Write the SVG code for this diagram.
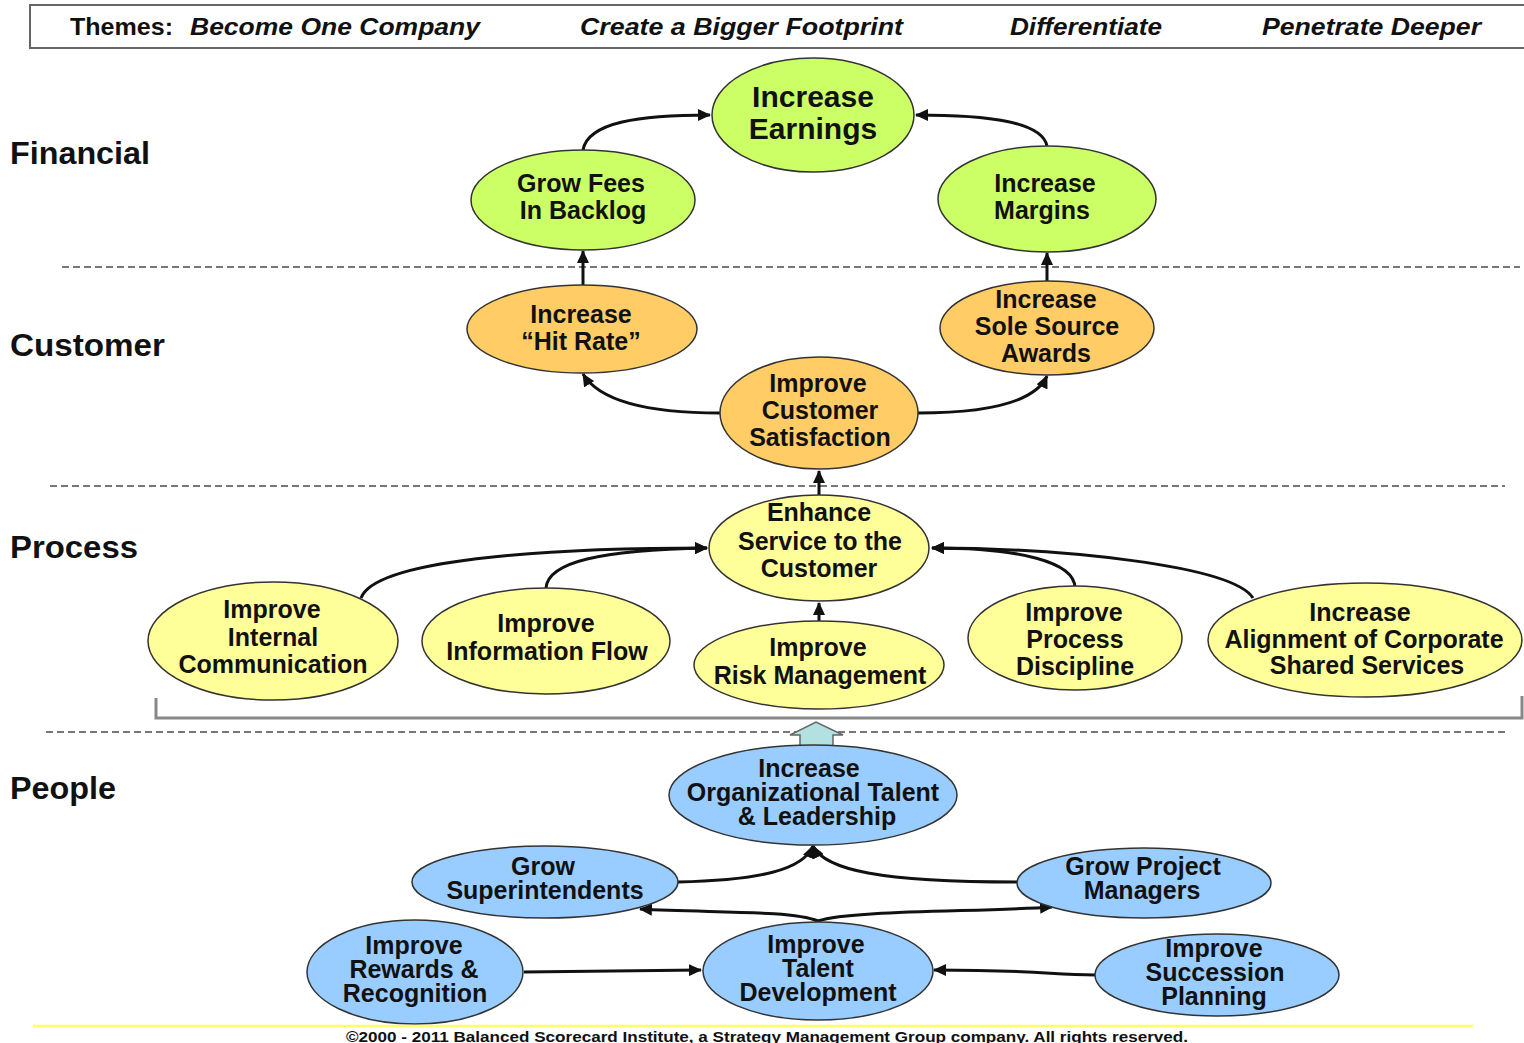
<svg xmlns="http://www.w3.org/2000/svg" width="1524" height="1043" viewBox="0 0 1524 1043">
<style>
.hdr{font-family:"Liberation Sans",Arial,sans-serif;font-size:24px;font-weight:bold;font-style:italic;fill:#111}
.sec{font-family:"Liberation Sans",Arial,sans-serif;font-size:31px;font-weight:bold;fill:#111}
.t{font-family:"Liberation Sans",Arial,sans-serif;font-size:25px;font-weight:bold;fill:#111;text-anchor:middle}
.big{font-size:30px}
.fin{fill:#ccff66;stroke:#333;stroke-width:1.5}
.cus{fill:#ffcc66;stroke:#333;stroke-width:1.5}
.pro{fill:#ffff99;stroke:#333;stroke-width:1.5}
.peo{fill:#99ccff;stroke:#333;stroke-width:1.5}
.dash{stroke:#777;stroke-width:2;stroke-dasharray:7 4;fill:none}
.c{fill:none;stroke:#111;stroke-width:3;marker-end:url(#ah)}
.foot{font-family:"Liberation Sans",Arial,sans-serif;font-size:15px;font-weight:bold;fill:#111}
</style>
<defs>
<marker id="ah" markerUnits="userSpaceOnUse" markerWidth="14" markerHeight="12" refX="12" refY="6" orient="auto">
<path d="M0,0 L13,6 L0,12 z" fill="#111"/>
</marker>
</defs>
<rect width="1524" height="1043" fill="#fff"/>

<g id="header">
<rect x="30" y="5" width="1510" height="43" fill="none" stroke="#666" stroke-width="2"/>
<text x="70" y="35" class="hdr" style="font-style:normal" textLength="103" lengthAdjust="spacingAndGlyphs">Themes:</text>
<text x="190" y="35" class="hdr" textLength="290" lengthAdjust="spacingAndGlyphs">Become  One  Company</text>
<text x="580" y="35" class="hdr" textLength="323" lengthAdjust="spacingAndGlyphs">Create  a  Bigger  Footprint</text>
<text x="1010" y="35" class="hdr" textLength="152" lengthAdjust="spacingAndGlyphs">Differentiate</text>
<text x="1262" y="35" class="hdr" textLength="219" lengthAdjust="spacingAndGlyphs">Penetrate  Deeper</text>
</g>

<g id="sections">
<text x="10" y="164" class="sec" textLength="140" lengthAdjust="spacingAndGlyphs">Financial</text>
<text x="10" y="356" class="sec" textLength="155" lengthAdjust="spacingAndGlyphs">Customer</text>
<text x="10" y="558" class="sec" textLength="128" lengthAdjust="spacingAndGlyphs">Process</text>
<text x="10" y="799" class="sec" textLength="106" lengthAdjust="spacingAndGlyphs">People</text>
</g>

<g id="dividers">
<line x1="62" y1="267" x2="1520" y2="267" class="dash"/>
<line x1="50" y1="486" x2="1505" y2="486" class="dash"/>
<line x1="46" y1="732" x2="1508" y2="732" class="dash"/>
</g>

<g id="bracket">
<path d="M156,698 L156,718 L1522,718 L1522,696" fill="none" stroke="#888" stroke-width="3"/>
</g>

<g id="block-arrow">
<path d="M800,750 L800,735 L790,735 L816,722 L843,735 L833,735 L833,750 z" fill="#b3e0e0" stroke="#666" stroke-width="1.5"/>
</g>

<g id="connectors">
<path class="c" d="M583,150 C588,122 640,115 710,115"/>
<path class="c" d="M1047,146 C1042,122 990,115 916,115"/>
<path class="c" d="M583,285 L583,251"/>
<path class="c" d="M1047,281 L1047,253"/>
<path class="c" d="M720,413 C650,413 600,402 583,374"/>
<path class="c" d="M918,413 C990,413 1035,402 1047,376"/>
<path class="c" d="M819,495 L819,471"/>
<path class="c" d="M361,598 C375,560 540,548 707,548"/>
<path class="c" d="M546,588 C548,562 600,550 707,548"/>
<path class="c" d="M819,621 L819,603"/>
<path class="c" d="M1075,588 C1075,562 1020,548 932,548"/>
<path class="c" d="M1253,598 C1232,565 1060,548 932,548"/>
<path class="c" d="M678,882 C760,880 803,870 813,846"/>
<path class="c" d="M1017,882 C880,882 825,870 813,846"/>
<path class="c" d="M818,921 C790,910 710,913 640,909"/>
<path class="c" d="M818,921 C850,910 980,912 1052,907"/>
<path class="c" d="M524,972 L701,970"/>
<path class="c" d="M1095,975 C1050,975 1040,970 934,970"/>
</g>

<g id="n-increase-earnings">
<ellipse cx="813" cy="115" rx="101" ry="57" class="fin"/>
<text class="t big" x="813" y="107">Increase</text>
<text class="t big" x="813" y="139">Earnings</text>
</g>
<g id="n-grow-fees">
<ellipse cx="583" cy="200" rx="112" ry="50" class="fin"/>
<text class="t" x="581" y="192">Grow Fees</text>
<text class="t" x="583" y="219">In Backlog</text>
</g>
<g id="n-increase-margins">
<ellipse cx="1047" cy="199" rx="109" ry="53" class="fin"/>
<text class="t" x="1045" y="192">Increase</text>
<text class="t" x="1042" y="219">Margins</text>
</g>

<g id="n-hit-rate">
<ellipse cx="582" cy="329" rx="115" ry="44" class="cus"/>
<text class="t" x="581" y="323">Increase</text>
<text class="t" x="581" y="350">“Hit Rate”</text>
</g>
<g id="n-sole-source">
<ellipse cx="1047" cy="328" rx="107" ry="47" class="cus"/>
<text class="t" x="1046" y="308">Increase</text>
<text class="t" x="1047" y="335">Sole Source</text>
<text class="t" x="1046" y="362">Awards</text>
</g>
<g id="n-customer-satisfaction">
<ellipse cx="819" cy="413" rx="99" ry="56" class="cus"/>
<text class="t" x="818" y="392">Improve</text>
<text class="t" x="820" y="419">Customer</text>
<text class="t" x="820" y="446">Satisfaction</text>
</g>

<g id="n-enhance-service">
<ellipse cx="819" cy="548" rx="110" ry="53" class="pro"/>
<text class="t" x="819" y="521">Enhance</text>
<text class="t" x="820" y="550">Service to the</text>
<text class="t" x="819" y="577">Customer</text>
</g>
<g id="n-internal-communication">
<ellipse cx="273" cy="641" rx="125" ry="59" class="pro"/>
<text class="t" x="272" y="618">Improve</text>
<text class="t" x="273" y="646">Internal</text>
<text class="t" x="273" y="673">Communication</text>
</g>
<g id="n-information-flow">
<ellipse cx="546" cy="641" rx="124" ry="53" class="pro"/>
<text class="t" x="546" y="632">Improve</text>
<text class="t" x="547" y="660">Information Flow</text>
</g>
<g id="n-risk-management">
<ellipse cx="819" cy="665" rx="125" ry="44" class="pro"/>
<text class="t" x="818" y="656">Improve</text>
<text class="t" x="820" y="684">Risk Management</text>
</g>
<g id="n-process-discipline">
<ellipse cx="1075" cy="638" rx="107" ry="52" class="pro"/>
<text class="t" x="1074" y="621">Improve</text>
<text class="t" x="1075" y="648">Process</text>
<text class="t" x="1075" y="675">Discipline</text>
</g>
<g id="n-corporate-alignment">
<ellipse cx="1365" cy="640" rx="157" ry="57" class="pro"/>
<text class="t" x="1360" y="621">Increase</text>
<text class="t" x="1364" y="648">Alignment of Corporate</text>
<text class="t" x="1367" y="674">Shared Services</text>
</g>

<g id="n-org-talent">
<ellipse cx="813" cy="795" rx="144" ry="50" class="peo"/>
<text class="t" x="809" y="777">Increase</text>
<text class="t" x="813" y="801">Organizational  Talent</text>
<text class="t" x="817" y="825">&amp; Leadership</text>
</g>
<g id="n-grow-superintendents">
<ellipse cx="545" cy="882" rx="133" ry="36" class="peo"/>
<text class="t" x="543" y="875">Grow</text>
<text class="t" x="545" y="899">Superintendents</text>
</g>
<g id="n-grow-pm">
<ellipse cx="1144" cy="883" rx="127" ry="35" class="peo"/>
<text class="t" x="1143" y="875">Grow Project</text>
<text class="t" x="1142" y="899">Managers</text>
</g>
<g id="n-rewards">
<ellipse cx="415" cy="972" rx="108" ry="52" class="peo"/>
<text class="t" x="414" y="954">Improve</text>
<text class="t" x="414" y="978">Rewards &amp;</text>
<text class="t" x="415" y="1002">Recognition</text>
</g>
<g id="n-talent-development">
<ellipse cx="818" cy="971" rx="115" ry="49" class="peo"/>
<text class="t" x="816" y="953">Improve</text>
<text class="t" x="818" y="977">Talent</text>
<text class="t" x="818" y="1001">Development</text>
</g>
<g id="n-succession">
<ellipse cx="1217" cy="975" rx="122" ry="41" class="peo"/>
<text class="t" x="1214" y="957">Improve</text>
<text class="t" x="1215" y="981">Succession</text>
<text class="t" x="1214" y="1005">Planning</text>
</g>

<g id="footer">
<line x1="33" y1="1026" x2="1473" y2="1026" stroke="#ffff66" stroke-width="2.5"/>
<text x="346" y="1042" class="foot" textLength="842" lengthAdjust="spacingAndGlyphs">©2000 - 2011 Balanced Scorecard Institute, a Strategy Management Group company. All rights reserved.</text>
</g>
</svg>
